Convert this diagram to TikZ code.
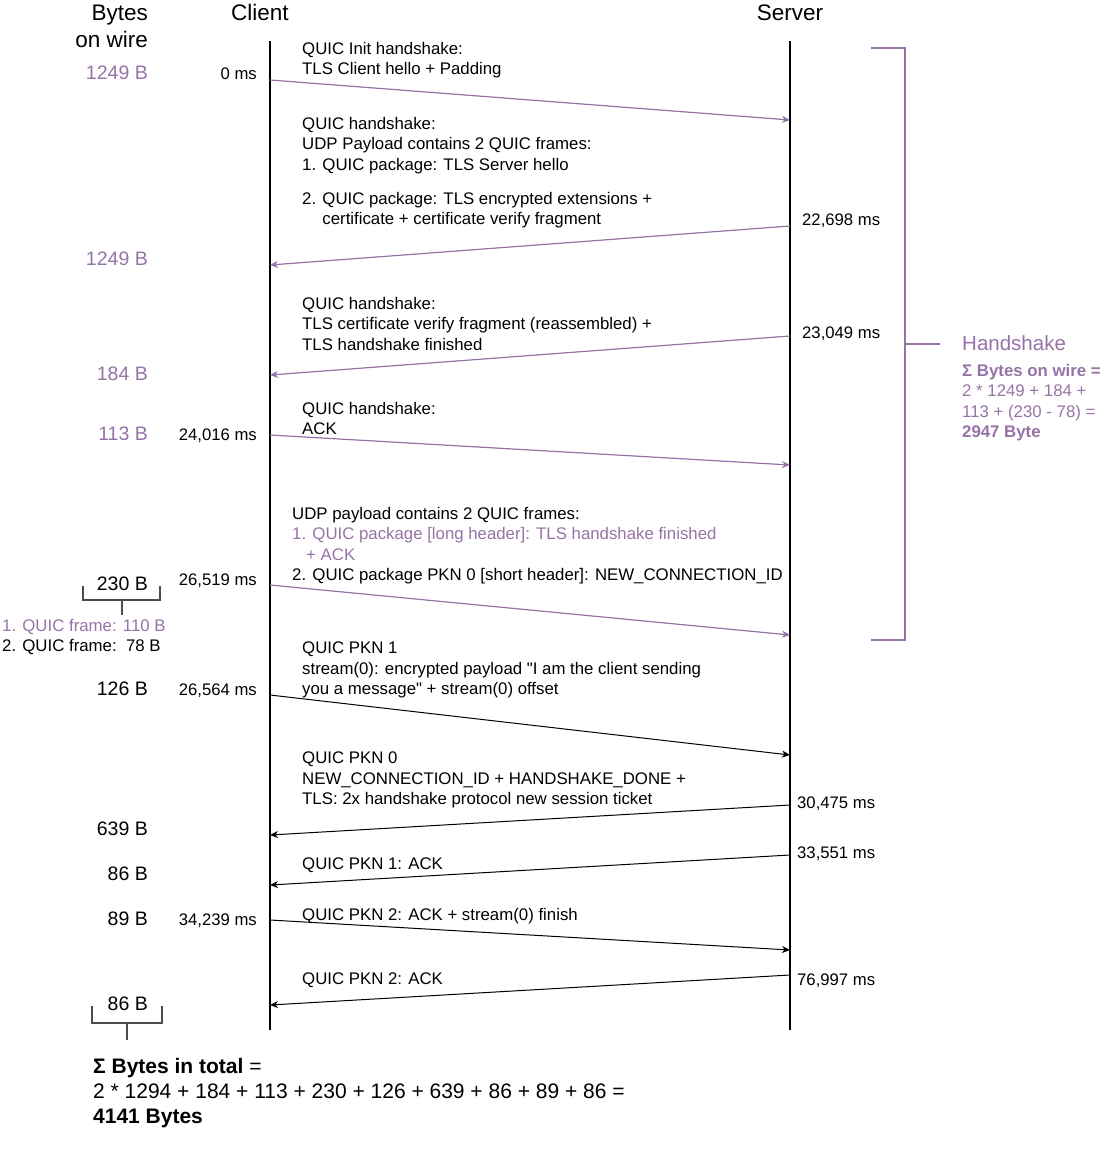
\documentclass[tikz,border=0pt]{standalone}
\usepackage{fontspec}
\setmainfont{Liberation Sans}
\usetikzlibrary{arrows.meta,positioning}
\definecolor{hspurple}{HTML}{9673A6}

\begin{document}
\begin{tikzpicture}[x=1pt,y=-1pt]
\tikzset{
  msgtext/.style={anchor=north west,inner sep=0pt,align=left,font=\fontsize{16.8}{20.5}\selectfont},
  timetext/.style={inner sep=0pt,font=\fontsize{16.7}{20}\selectfont},
  bytetext/.style={anchor=base east,inner sep=0pt,font=\fontsize{19.5}{23}\selectfont},
  headtext/.style={inner sep=0pt,font=\fontsize{22.5}{26.5}\selectfont},
  lifeline/.style={line width=1.3pt},
  hsmsg/.style={-{Stealth[length=8pt,width=7pt,inset=2.5pt]},draw=hspurple,fill=hspurple,line width=1.2pt},
  plainmsg/.style={-{Stealth[length=8pt,width=7pt,inset=2.5pt]},line width=1pt},
  bracket/.style={line width=1.2pt,draw=black!70},
  hsbracket/.style={line width=1.8pt,draw=hspurple}
}
\useasboundingbox (0,0) rectangle (1111,1156);

% headers
\node[headtext,anchor=north east,align=right] (h_bytes) at (148,5) {Bytes\\on wire};
\node[headtext,anchor=base] (h_client) at (260,21) {Client};
\node[headtext,anchor=base] (h_server) at (790,21) {Server};

% lifelines
\coordinate (cl_top) at (270,41);
\coordinate (cl_bot) at (270,1030);
\coordinate (sv_top) at (790,41);
\coordinate (sv_bot) at (790,1030);
\draw[lifeline] (cl_top) -- (cl_bot);
\draw[lifeline] (sv_top) -- (sv_bot);

% message end points
\coordinate (c1) at (270,80);   \coordinate (s1) at (790,120);
\coordinate (s2) at (790,226);  \coordinate (c2) at (270,265);
\coordinate (s3) at (790,336);  \coordinate (c3) at (270,375);
\coordinate (c4) at (270,435);  \coordinate (s4) at (790,465);
\coordinate (c5) at (270,585);  \coordinate (s5) at (790,635);
\coordinate (c6) at (270,695);  \coordinate (s6) at (790,755);
\coordinate (s7) at (790,805);  \coordinate (c7) at (270,835);
\coordinate (s8) at (790,855);  \coordinate (c8) at (270,885);
\coordinate (c9) at (270,920);  \coordinate (s9) at (790,950);
\coordinate (s10) at (790,975); \coordinate (c10) at (270,1005);

% handshake messages
\draw[hsmsg] (c1) -- (s1);
\draw[hsmsg] (s2) -- (c2);
\draw[hsmsg] (s3) -- (c3);
\draw[hsmsg] (c4) -- (s4);
\draw[hsmsg] (c5) -- (s5);
% data messages
\draw[plainmsg] (c6) -- (s6);
\draw[plainmsg] (s7) -- (c7);
\draw[plainmsg] (s8) -- (c8);
\draw[plainmsg] (c9) -- (s9);
\draw[plainmsg] (s10) -- (c10);

% message labels
\node[msgtext] (m1) at (302,42) {QUIC Init handshake:\\TLS Client hello + Padding};
\node[msgtext] (m2) at (302,117) {QUIC handshake:\\UDP Payload contains 2 QUIC frames:\\1. QUIC package: TLS Server hello\\[13.5pt]
  2. QUIC package: TLS encrypted extensions +\\\phantom{2. }certificate + certificate verify fragment};
\node[msgtext] (m3) at (302,297) {QUIC handshake:\\TLS certificate verify fragment (reassembled) +\\TLS handshake finished};
\node[msgtext] (m4) at (302,402) {QUIC handshake:\\ACK};
\node[msgtext] (m5) at (292,507) {UDP payload contains 2 QUIC frames:\\
  \textcolor{hspurple}{1. QUIC package [long header]: TLS handshake finished}\\
  \textcolor{hspurple}{\hspace*{14pt}+ ACK}\\
  2. QUIC package PKN 0 [short header]: NEW\_CONNECTION\_ID};
\node[msgtext] (m6) at (302,642) {QUIC PKN 1\\stream(0): encrypted payload \textquotedbl I am the client sending\\you a message\textquotedbl{} + stream(0) offset};
\node[msgtext] (m7) at (302,752) {QUIC PKN 0\\NEW\_CONNECTION\_ID + HANDSHAKE\_DONE +\\TLS: 2x handshake protocol new session ticket};
\node[msgtext] (m8) at (302,858) {QUIC PKN 1: ACK};
\node[msgtext] (m9) at (302,908) {QUIC PKN 2: ACK + stream(0) finish};
\node[msgtext] (m10) at (302,973) {QUIC PKN 2: ACK};

% time stamps, client side
\node[timetext,anchor=base east] (t_c1) at (257,80) {0 ms};
\node[timetext,anchor=base east] (t_c4) at (257,440) {24,016 ms};
\node[timetext,anchor=base east] (t_c5) at (257,585) {26,519 ms};
\node[timetext,anchor=base east] (t_c6) at (257,695) {26,564 ms};
\node[timetext,anchor=base east] (t_c9) at (257,925) {34,239 ms};
% time stamps, server side
\node[timetext,anchor=base west] (t_s2) at (802,225) {22,698 ms};
\node[timetext,anchor=base west] (t_s3) at (802,338) {23,049 ms};
\node[timetext,anchor=base west] (t_s7) at (797,808) {30,475 ms};
\node[timetext,anchor=base west] (t_s8) at (797,858) {33,551 ms};
\node[timetext,anchor=base west] (t_s10) at (797,985) {76,997 ms};

% bytes on wire
\node[bytetext,text=hspurple] (b1) at (148,80) {1249 B};
\node[bytetext,text=hspurple] (b2) at (148,265) {1249 B};
\node[bytetext,text=hspurple] (b3) at (148,380) {184 B};
\node[bytetext,text=hspurple] (b4) at (148,440) {113 B};
\node[bytetext] (b5) at (148,590) {230 B};
\node[bytetext] (b6) at (148,695) {126 B};
\node[bytetext] (b7) at (148,835) {639 B};
\node[bytetext] (b8) at (148,880) {86 B};
\node[bytetext] (b9) at (148,925) {89 B};
\node[bytetext] (b10) at (148,1010) {86 B};

% split of the 230 B datagram
\draw[bracket] (83,586) -- (83,600) -- (160,600) -- (160,586);
\draw[bracket] (122,600) -- (122,615);
\node[msgtext,text=hspurple] (fr1) at (2,619) {1. QUIC frame: 110 B};
\node[msgtext] (fr2) at (2,639) {2. QUIC frame:\ \ 78 B};

% bracket above the total
\draw[bracket] (92,1006) -- (92,1023) -- (162,1023) -- (162,1006);
\draw[bracket] (127,1023) -- (127,1040);

% handshake bracket
\draw[hsbracket] (871,48) -- (905,48) -- (905,640) -- (871,640);
\draw[hsbracket] (905,344) -- (940,344);
\node[inner sep=0pt,anchor=base west,text=hspurple,font=\fontsize{20.5}{24}\selectfont] (hs_label) at (962,350) {Handshake};
\node[msgtext,text=hspurple] (hs_sum) at (962,364) {\textbf{Σ Bytes on wire =}\\2 * 1249 + 184 +\\113 + (230 - 78) =\\\textbf{2947 Byte}};

% total
\node[msgtext,font=\fontsize{21}{25}\selectfont] (total) at (93,1058) {\textbf{Σ Bytes in total} =\\2 * 1294 + 184 + 113 + 230 + 126 + 639 + 86 + 89 + 86 =\\\textbf{4141 Bytes}};
\end{tikzpicture}
\end{document}
